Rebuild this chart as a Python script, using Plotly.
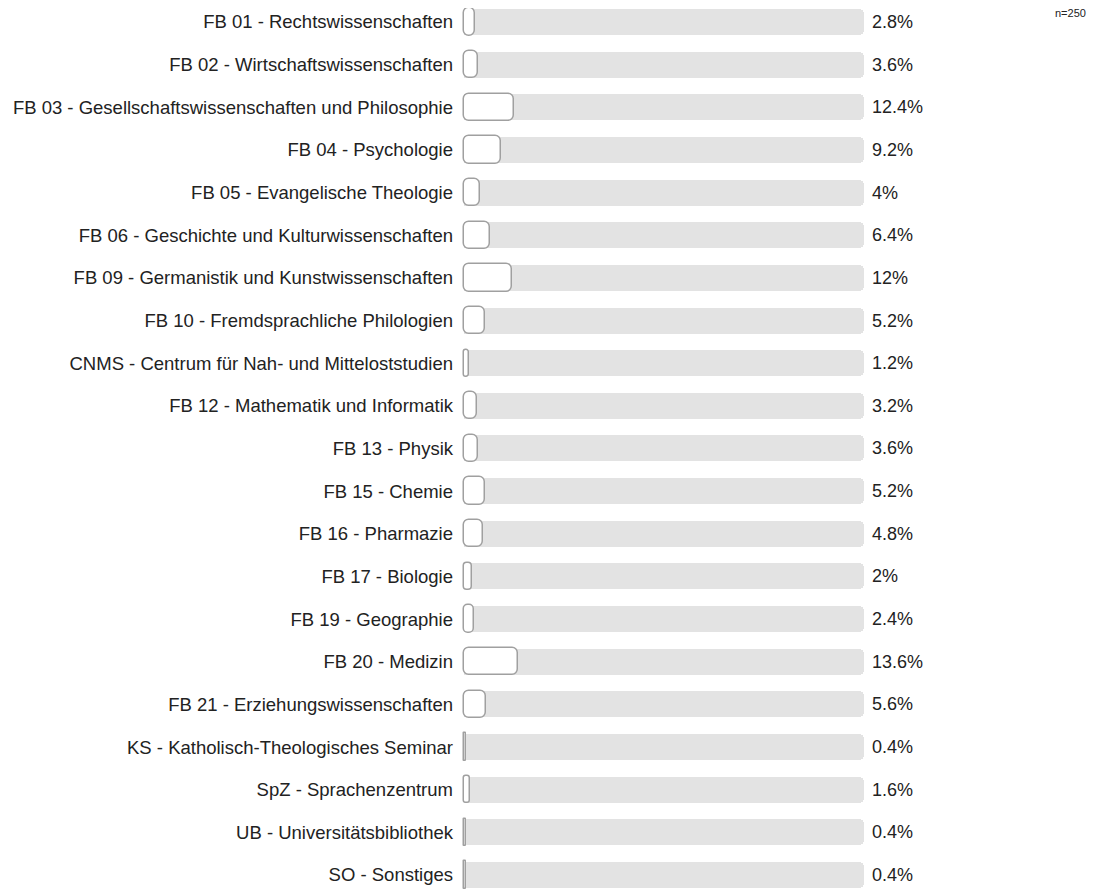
import plotly.graph_objects as go

categories = [
    "FB 01 - Rechtswissenschaften",
    "FB 02 - Wirtschaftswissenschaften",
    "FB 03 - Gesellschaftswissenschaften und Philosophie",
    "FB 04 - Psychologie",
    "FB 05 - Evangelische Theologie",
    "FB 06 - Geschichte und Kulturwissenschaften",
    "FB 09 - Germanistik und Kunstwissenschaften",
    "FB 10 - Fremdsprachliche Philologien",
    "CNMS - Centrum für Nah- und Mitteloststudien",
    "FB 12 - Mathematik und Informatik",
    "FB 13 - Physik",
    "FB 15 - Chemie",
    "FB 16 - Pharmazie",
    "FB 17 - Biologie",
    "FB 19 - Geographie",
    "FB 20 - Medizin",
    "FB 21 - Erziehungswissenschaften",
    "KS - Katholisch-Theologisches Seminar",
    "SpZ - Sprachenzentrum",
    "UB - Universitätsbibliothek",
    "SO - Sonstiges",
]
values = [2.8, 3.6, 12.4, 9.2, 4.0, 6.4, 12.0, 5.2, 1.2, 3.2, 3.6, 5.2, 4.8,
          2.0, 2.4, 13.6, 5.6, 0.4, 1.6, 0.4, 0.4]
total_pct = 100
n_label = "n=250"

idx = list(range(len(categories)))
font = "Liberation Sans, Arial, Helvetica, sans-serif"

fig = go.Figure()

# background track
fig.add_trace(go.Bar(
    y=idx, x=[total_pct] * len(idx), orientation="h", width=0.61,
    marker=dict(color="#e3e3e3", line=dict(width=0), cornerradius=5),
    hoverinfo="skip", showlegend=False,
))

# value bars (explicit base -> rounded on both ends)
fig.add_trace(go.Bar(
    y=idx, x=values, base=[0] * len(values), orientation="h", width=0.64,
    marker=dict(color="white", line=dict(color="#a0a0a0", width=1.5), cornerradius=6),
    hoverinfo="skip", showlegend=False,
))

annotations = []
for i, v in zip(idx, values):
    annotations.append(dict(
        x=total_pct, y=i, xref="x", yref="y", text=f"{v:g}%",
        showarrow=False, xanchor="left", xshift=6,
        font=dict(family=font, size=18, color="#222"),
    ))
annotations.append(dict(
    x=(1045 - 454) / 404, y=(890 - 5) / 890, xref="paper", yref="paper",
    text=n_label, showarrow=False, xanchor="left", yanchor="middle",
    font=dict(family=font, size=11, color="#222"),
))

fig.update_layout(
    width=1098, height=890,
    margin=dict(l=454, r=240, t=0, b=0, autoexpand=False),
    barmode="overlay", bargap=0,
    plot_bgcolor="white", paper_bgcolor="white",
    font=dict(family=font, size=18, color="#222"),
    xaxis=dict(range=[-0.5, 100.5], visible=False, fixedrange=True, automargin=False),
    yaxis=dict(
        range=[20.54, -0.328], tickmode="array", tickvals=idx, ticktext=categories,
        showgrid=False, zeroline=False, showline=False, ticks="", automargin=False,
        ticklabelstandoff=8, tickfont=dict(family=font, size=18.5, color="#222"),
    ),
    annotations=annotations,
)

fig.write_html("out.html")
